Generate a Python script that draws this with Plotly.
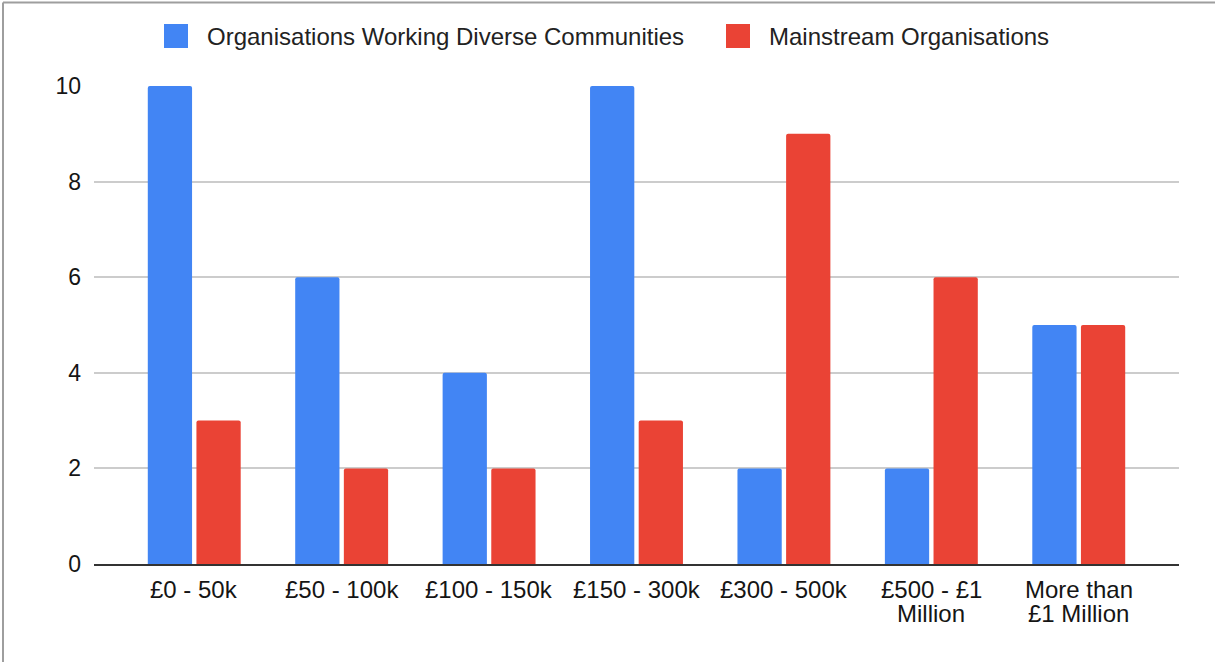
import plotly.graph_objects as go

# Funding band categories and counts per organisation type
categories = ["£0 - 50k", "£50 - 100k", "£100 - 150k", "£150 - 300k",
              "£300 - 500k", "£500 - £1\nMillion", "More than\n£1 Million"]
diverse_orgs = [10, 6, 4, 10, 2, 2, 5]
mainstream_orgs = [3, 2, 2, 3, 9, 6, 5]
series_names = ["Organisations Working Diverse Communities", "Mainstream Organisations"]
series_colors = ["#4285F4", "#EA4335"]
y_ticks = [0, 2, 4, 6, 8, 10]

W, H = 1215, 662
ML, MR, MT, MB = 94, 36, 86, 98
PW, PH = W - ML - MR, H - MT - MB
FONT = "Liberation Sans, Arial, Helvetica, sans-serif"
TEXT = "#151515"


def px_x(x):
    return (x - ML) / PW


def px_y(y):
    return (H - MB - y) / PH


fig = go.Figure()
for name, vals, col in zip(series_names, [diverse_orgs, mainstream_orgs], series_colors):
    fig.add_trace(go.Bar(x=categories, y=vals, name=name, marker_color=col,
                         marker_line_width=0, showlegend=False))

shapes = [
    # frame around the chart (top and left edges)
    dict(type="line", xref="paper", yref="paper", x0=px_x(3), x1=px_x(W + 5),
         y0=px_y(2.5), y1=px_y(2.5), line=dict(color="#9e9e9e", width=2)),
    dict(type="line", xref="paper", yref="paper", x0=px_x(3), x1=px_x(3),
         y0=px_y(2.5), y1=px_y(H + 5), line=dict(color="#9e9e9e", width=2)),
]
annotations = []

# legend swatches and labels
legend_items = [(164, 205), (726, 767)]
for (sx, tx), name, col in zip(legend_items, series_names, series_colors):
    shapes.append(dict(type="rect", xref="paper", yref="paper",
                       x0=px_x(sx), x1=px_x(sx + 24), y0=px_y(48), y1=px_y(24),
                       fillcolor=col, line=dict(width=0)))
    annotations.append(dict(xref="paper", yref="paper", x=px_x(tx), y=px_y(36),
                            xanchor="center" if False else "left", yanchor="middle",
                            showarrow=False, text=name,
                            font=dict(size=24, color="#222222", family=FONT)))

# category labels under the axis, one line at a time for tight line spacing
for cat in categories:
    for i, line in enumerate(cat.split("\n")):
        annotations.append(dict(xref="x", yref="paper", x=cat, y=px_y(589 + 24.5 * i),
                                xanchor="center", yanchor="middle", showarrow=False,
                                text=line, font=dict(size=24, color=TEXT, family=FONT)))

fig.update_layout(
    width=W, height=H,
    margin=dict(l=ML, r=MR, t=MT, b=MB, pad=0),
    paper_bgcolor="white", plot_bgcolor="white",
    barmode="group", bargap=0.34, bargroupgap=0.09, barcornerradius=2,
    font=dict(family=FONT, size=23, color=TEXT),
    shapes=shapes, annotations=annotations,
    xaxis=dict(range=[-0.68, 6.68], showgrid=False, showline=True,
               linecolor="#333333", linewidth=2, ticks="", showticklabels=False),
    yaxis=dict(range=[0, 10], tickvals=y_ticks, showgrid=True, gridcolor="#cccccc",
               gridwidth=1.5, zeroline=False, showline=False, ticks="",
               tickfont=dict(size=23, color=TEXT), ticklabelstandoff=12),
)

fig.write_html("out.html")
